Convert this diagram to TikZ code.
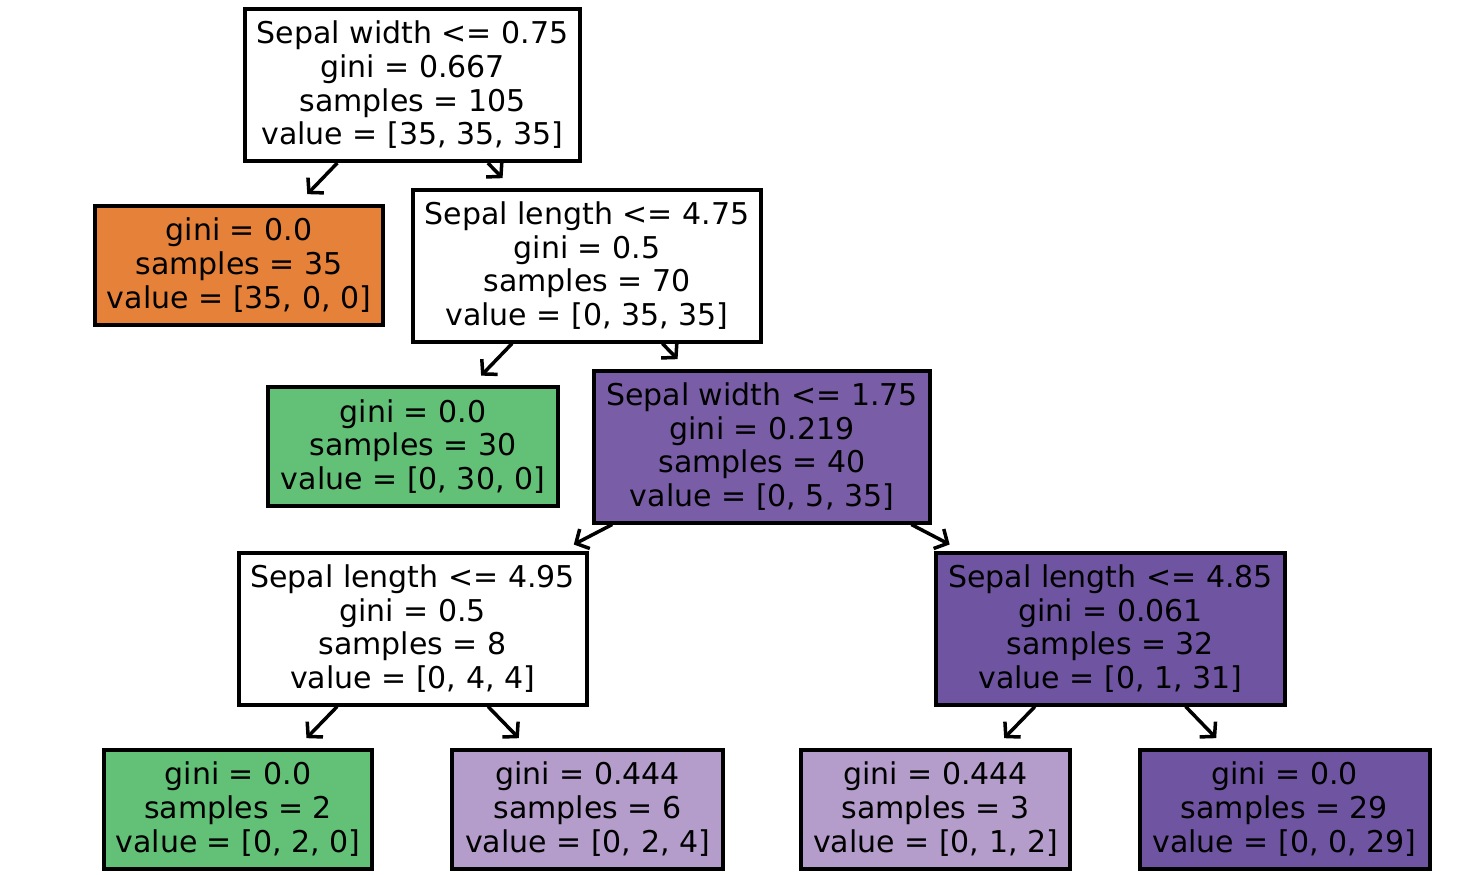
\documentclass[tikz,border=0pt]{standalone}
\usepackage{fontspec}
\setmainfont{DejaVu Sans}
\usetikzlibrary{arrows.meta}
\definecolor{corange}{RGB}{229,129,57}
\definecolor{cgreen}{RGB}{98,192,119}
\definecolor{cpurple}{RGB}{111,84,161}
\definecolor{cmid}{RGB}{122,93,167}
\definecolor{clight}{RGB}{181,157,203}
\tikzset{
  tnode/.style={draw=black, line width=4pt, align=center, inner sep=0pt,
    font=\fontsize{30}{33.7}\selectfont, text=black},
  four/.style={tnode, minimum height=152pt},
  three/.style={tnode, minimum height=119pt},
  arr/.style={line width=3.5pt, -{Straight Barb[length=10pt,width=22pt]}, shorten >=13pt}
}
\begin{document}
\begin{tikzpicture}[x=1pt,y=-1pt]
\useasboundingbox (0,0) rectangle (1480,875);
\node[four, fill=white, minimum width=335pt] (root) at (412.5,85) {Sepal width <= 0.75\\gini = 0.667\\samples = 105\\value = [35, 35, 35]};
\node[three, fill=corange, minimum width=288pt] (orange) at (239,265) {gini = 0.0\\samples = 35\\value = [35, 0, 0]};
\node[four, fill=white, minimum width=348pt] (n475) at (587,265.5) {Sepal length <= 4.75\\gini = 0.5\\samples = 70\\value = [0, 35, 35]};
\node[three, fill=cgreen, minimum width=290pt] (green1) at (413,446.5) {gini = 0.0\\samples = 30\\value = [0, 30, 0]};
\node[four, fill=cmid, minimum width=336pt] (n175) at (762,446.5) {Sepal width <= 1.75\\gini = 0.219\\samples = 40\\value = [0, 5, 35]};
\node[four, fill=white, minimum width=348pt] (n495) at (412.5,628.5) {Sepal length <= 4.95\\gini = 0.5\\samples = 8\\value = [0, 4, 4]};
\node[four, fill=cpurple, minimum width=349pt] (n485) at (1110.5,628.5) {Sepal length <= 4.85\\gini = 0.061\\samples = 32\\value = [0, 1, 31]};
\node[three, fill=cgreen, minimum width=268pt] (green2) at (238,809) {gini = 0.0\\samples = 2\\value = [0, 2, 0]};
\node[three, fill=clight, minimum width=271pt] (light1) at (587.5,809) {gini = 0.444\\samples = 6\\value = [0, 2, 4]};
\node[three, fill=clight, minimum width=269pt] (light2) at (935.5,809) {gini = 0.444\\samples = 3\\value = [0, 1, 2]};
\node[three, fill=cpurple, minimum width=290pt] (dark) at (1284.5,809) {gini = 0.0\\samples = 29\\value = [0, 0, 29]};
\draw[arr] (root) -- (orange);
\draw[arr] (root) -- (n475);
\draw[arr] (n475) -- (green1);
\draw[arr] (n475) -- (n175);
\draw[arr] (n175) -- (n495);
\draw[arr] (n175) -- (n485);
\draw[arr] (n495) -- (green2);
\draw[arr] (n495) -- (light1);
\draw[arr] (n485) -- (light2);
\draw[arr] (n485) -- (dark);
\end{tikzpicture}
\end{document}
